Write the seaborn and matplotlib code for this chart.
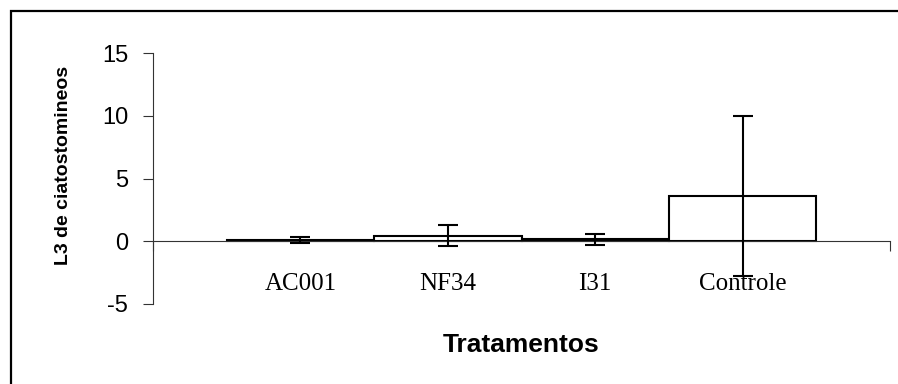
import matplotlib
matplotlib.use("Agg")
import matplotlib.pyplot as plt
import seaborn as sns
import pandas as pd
from matplotlib.patches import Rectangle


tratamentos = ["AC001", "NF34", "I31", "Controle"]
medias = [0.1, 0.45, 0.15, 3.6]
erros = [0.25, 0.85, 0.45, 6.4]
y_ticks = [-5, 0, 5, 10, 15]

sns.set_style("ticks")
plt.rcParams['font.family'] = ['Liberation Sans', 'DejaVu Sans']
plt.rcParams['text.color'] = 'black'
plt.rcParams['axes.labelcolor'] = 'black'
plt.rcParams['xtick.color'] = 'black'
plt.rcParams['ytick.color'] = 'black'

df = pd.DataFrame({"tratamento": tratamentos, "media": medias})

fig = plt.figure(figsize=(8.98, 3.84), dpi=100)
ax = fig.add_axes([153 / 898, 1 - 304 / 384, (890 - 153) / 898, (304 - 53) / 384])

sns.barplot(data=df, x="tratamento", y="media", color="white", edgecolor="black",
            linewidth=1.5, width=1.0, errorbar=None, saturation=1, ax=ax)
ax.errorbar(range(len(medias)), medias, yerr=erros, fmt="none", ecolor="black",
            elinewidth=1.5, capsize=7, capthick=1.5, zorder=5)

ax.set_xlim(-1, 4)
ax.set_ylim(-5, 15)
ax.set_yticks(y_ticks)
ax.set_yticklabels([str(v) for v in y_ticks], fontsize=17)

ax.spines["top"].set_visible(False)
ax.spines["right"].set_visible(False)
ax.spines["bottom"].set_position(("data", 0))
for s in ["left", "bottom"]:
    ax.spines[s].set_linewidth(0.8)
    ax.spines[s].set_color("#333333")

ax.set_xticks(range(len(tratamentos)))
ax.set_xticklabels(tratamentos, family="Liberation Serif", fontsize=18)
ax.set_xticks([-1, 4], minor=True)
ax.tick_params(axis="x", which="major", length=0, pad=23)
ax.tick_params(axis="x", which="minor", length=7, width=0.8, direction="out", color="#333333")
ax.tick_params(axis="y", length=7, width=0.8, direction="out", color="#333333", pad=11)

ax.set_xlabel("Tratamentos", fontsize=19, fontweight="bold")
ax.set_ylabel("L3 de ciatostomineos", fontsize=14, fontweight="bold")
ax.xaxis.set_label_coords(0.5, -0.115)
ax.yaxis.set_label_coords(-0.11, 0.552)

fig.patches.append(Rectangle((11 / 898, -0.5), 1.5, 0.5 + 1 - 11 / 384,
                             transform=fig.transFigure, fill=False,
                             edgecolor="black", linewidth=1.6))

fig.savefig("out.png", dpi=100)
